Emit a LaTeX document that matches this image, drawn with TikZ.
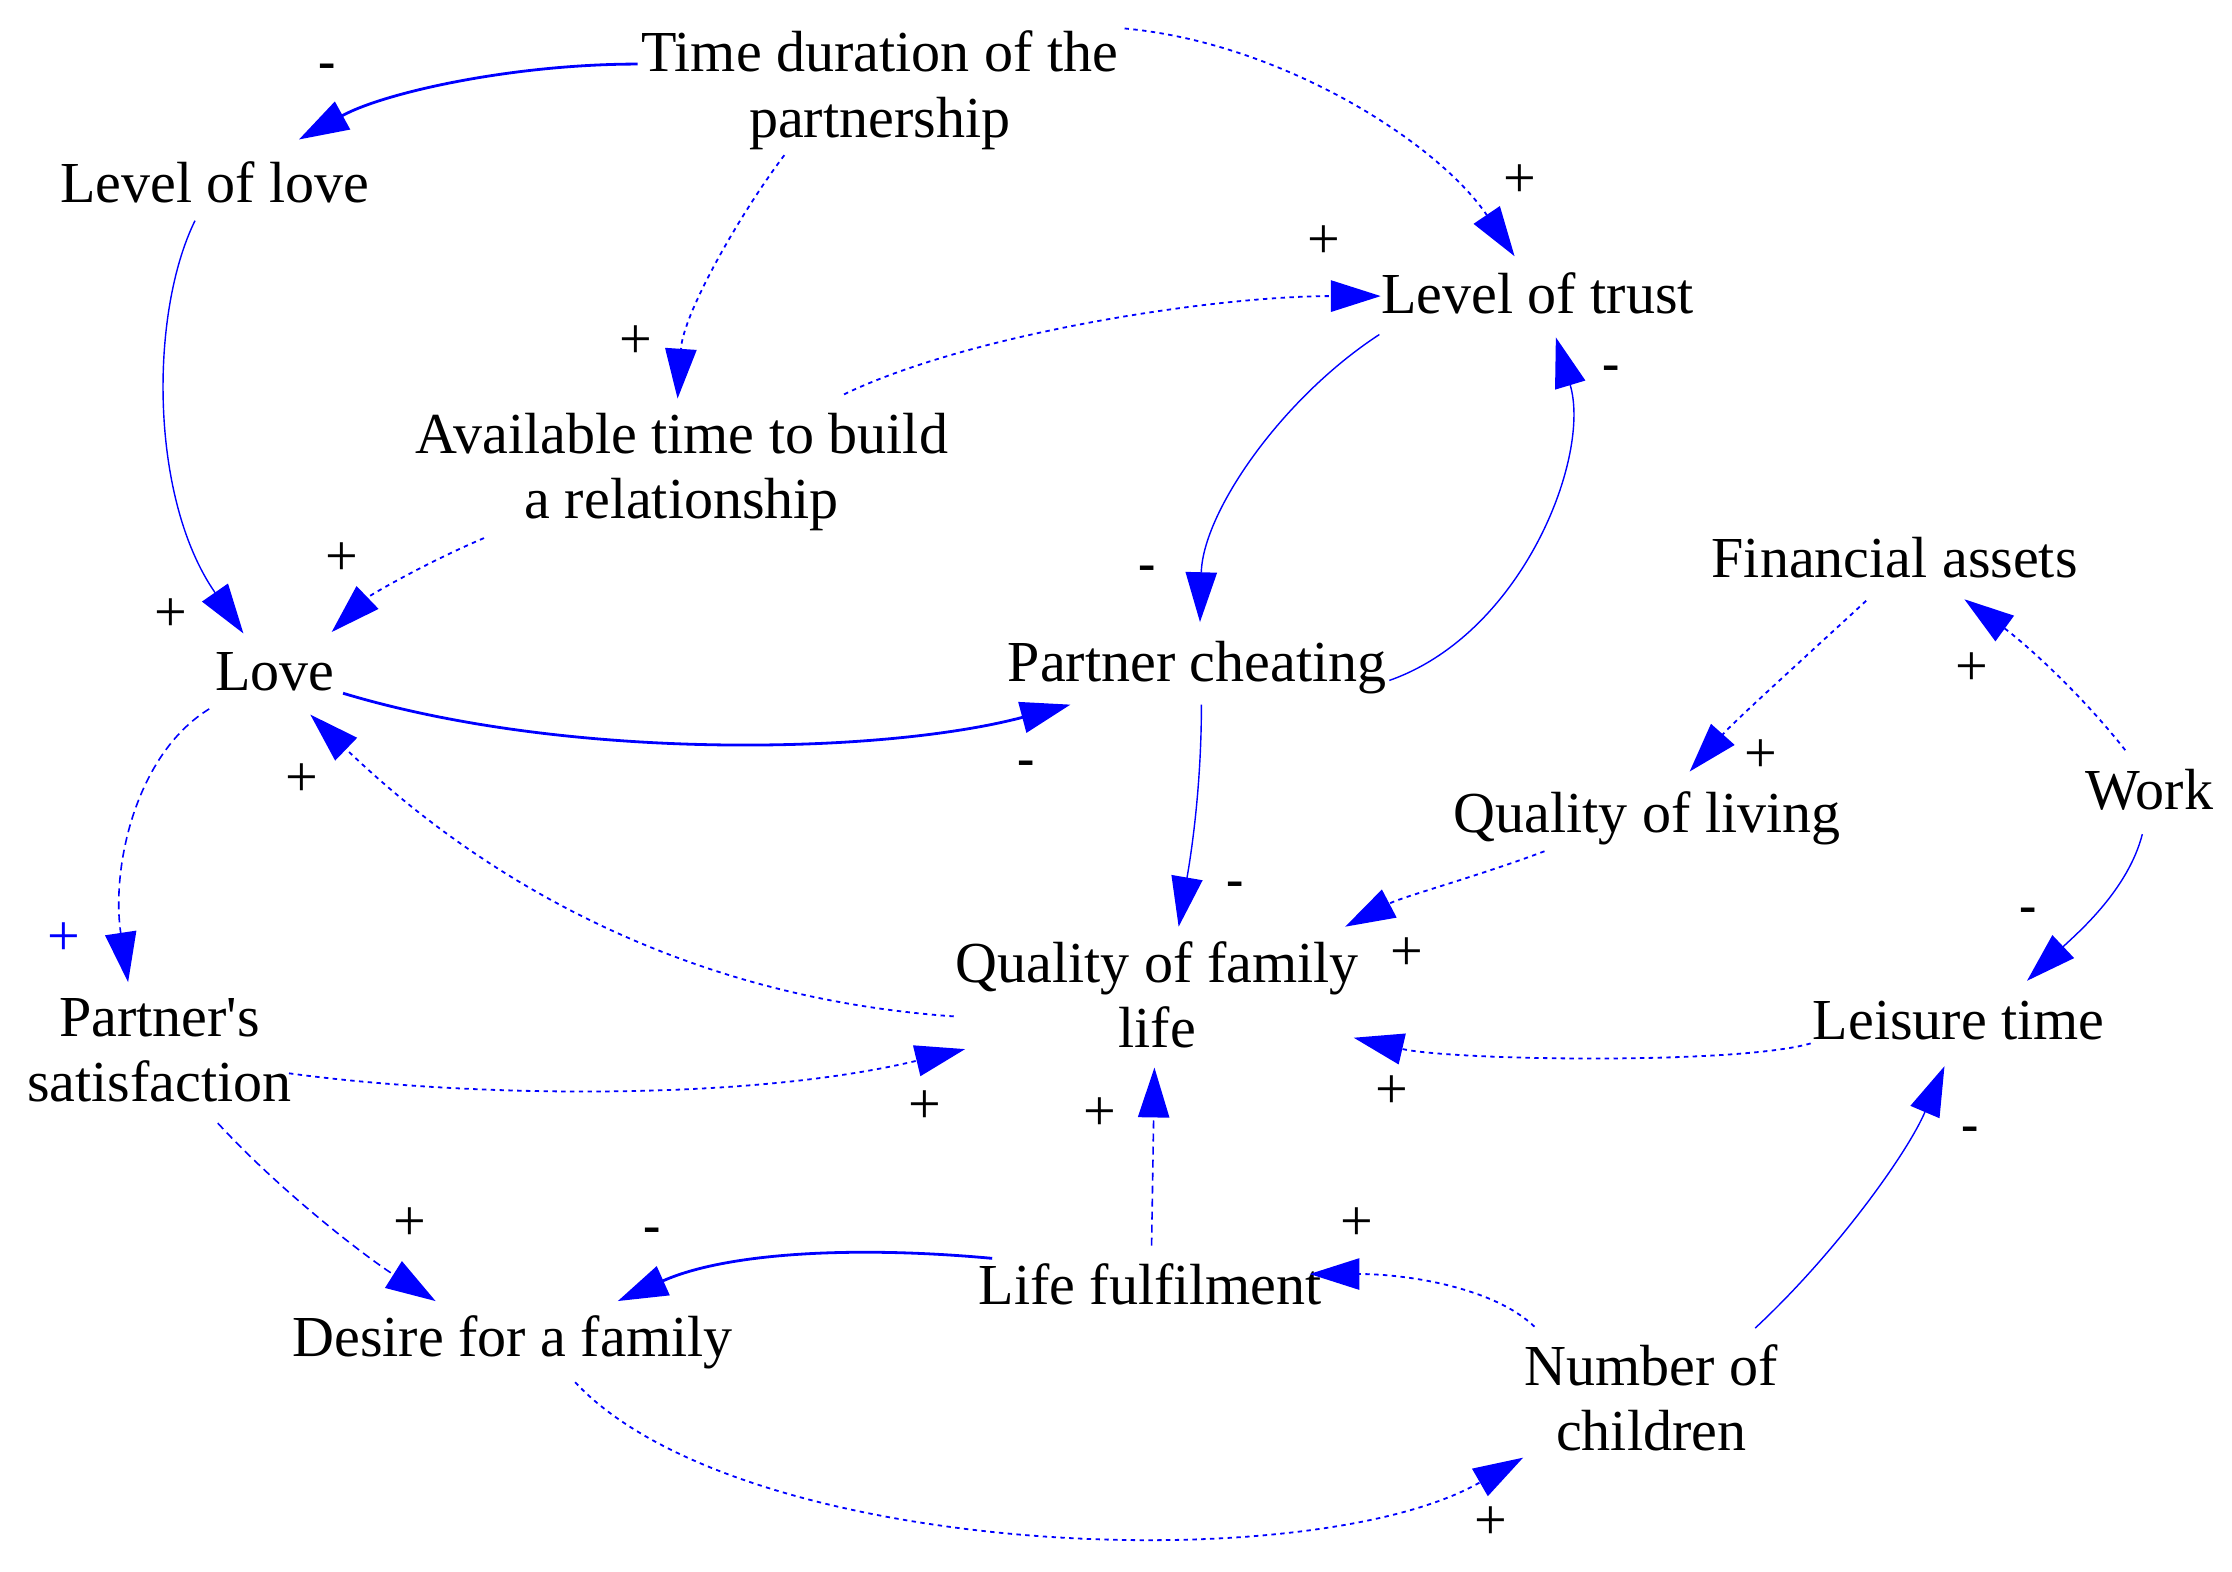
\documentclass[tikz,border=0pt]{standalone}
\usepackage{fontspec}
\setmainfont{Liberation Serif}
\usetikzlibrary{arrows.meta}
\begin{document}
\begin{tikzpicture}[x=0.25mm,y=-0.25mm,
  var/.style={font=\fontsize{29}{32.7}\selectfont, inner sep=0pt, align=center, text=black},
  plus/.style={font=\fontsize{29}{30}\selectfont, inner sep=0pt, text=black},
  minus/.style={font=\fontsize{26}{28}\selectfont\bfseries, inner sep=0pt, text=black},
  link/.style={draw=blue, line width=0.7pt, -{Triangle[length=8.75mm,width=5.5mm]}},
  dotlink/.style={link, line width=0.9pt, dash pattern=on 2.2pt off 2.2pt},
  dashlink/.style={link, line width=0.8pt, dash pattern=on 4pt off 2.5pt},
  thicklink/.style={link, line width=1.4pt}]
\useasboundingbox (0,0) rectangle (1568,1104);
% variables
\node[var] (tdp) at (618,63.5) {Time duration of the\\partnership};
\node[var] (lol) at (151,128) {Level of love};
\node[var] (lot) at (1080,206) {Level of trust};
\node[var] (atb) at (479,331.5) {Available time to build\\a relationship};
\node[var] (love) at (193,472) {Love};
\node[var] (pc) at (841,469) {Partner cheating};
\node[var] (fa) at (1331,392) {Financial assets};
\node[var] (ql) at (1157,575) {Quality of living};
\node[var] (work) at (1510,555) {Work};
\node[var] (qfl) at (813,699) {Quality of family\\life};
\node[var] (ps) at (112,738) {Partner\textquotesingle s\\satisfaction};
\node[var] (lt) at (1376,717) {Leisure time};
\node[var] (lf) at (808,902) {Life fulfilment};
\node[var] (dff) at (360,943) {Desire for a family};
\node[var] (noc) at (1160,982) {Number of\\children};
% links
\draw[thicklink] ([shift={(-170,-18.5)}]tdp.center) .. controls (360,45) and (270,65) .. ([shift={(59,-30)}]lol.center);
\draw[dotlink] ([shift={(-67,45.5)}]tdp.center) .. controls (520,150) and (480,220) .. ([shift={(-3,-51.5)}]atb.center);
\draw[dotlink] ([shift={(172,-43.5)}]tdp.center) .. controls (900,30) and (1010,100) .. ([shift={(-16,-26)}]lot.center);
\draw[dotlink] ([shift={(114,-54.5)}]atb.center) .. controls (680,235) and (850,208) .. ([shift={(-110,2)}]lot.center);
\draw[link] ([shift={(-111,29)}]lot.center) .. controls (900,280) and (845,360) .. ([shift={(2,-32)}]pc.center);
\draw[link] ([shift={(135,9)}]pc.center) .. controls (1070,445) and (1118,320) .. ([shift={(13,31)}]lot.center);
\draw[link] ([shift={(-14,27)}]lol.center) .. controls (105,220) and (105,350) .. ([shift={(-22,-27)}]love.center);
\draw[dotlink] ([shift={(-139,46.5)}]atb.center) .. controls (300,395) and (260,418) .. ([shift={(40,-28)}]love.center);
\draw[thicklink] ([shift={(48,15)}]love.center) .. controls (400,535) and (620,530) .. ([shift={(-89,26)}]pc.center);
\draw[link] ([shift={(3,26)}]pc.center) .. controls (844,560) and (835,610) .. ([shift={(15,-48)}]qfl.center);
\draw[dotlink] ([shift={(-143,15)}]qfl.center) .. controls (470,700) and (330,610) .. ([shift={(25,30)}]love.center);
\draw[dashlink] ([shift={(-46,26)}]love.center) .. controls (95,530) and (78,610) .. ([shift={(-22,-48)}]ps.center);
\draw[dotlink] ([shift={(91,16)}]ps.center) .. controls (320,770) and (520,775) .. ([shift={(-135,38)}]qfl.center);
\draw[dotlink] ([shift={(-72,23)}]ql.center) .. controls (1040,615) and (985,630) .. ([shift={(132,-48)}]qfl.center);
\draw[dotlink] ([shift={(-20,30)}]fa.center) .. controls (1270,460) and (1220,505) .. ([shift={(30,-33)}]ql.center);
\draw[dotlink] ([shift={(-17,-28)}]work.center) .. controls (1460,485) and (1420,450) .. ([shift={(49,29)}]fa.center);
\draw[link] ([shift={(-5,31)}]work.center) .. controls (1495,625) and (1460,655) .. ([shift={(48,-28)}]lt.center);
\draw[dotlink] ([shift={(-104,16)}]lt.center) .. controls (1220,748) and (1020,745) .. ([shift={(138,30)}]qfl.center);
\draw[link] ([shift={(73,-49)}]noc.center) .. controls (1290,880) and (1340,810) .. ([shift={(-10,32)}]lt.center);
\draw[dotlink] ([shift={(-82,-50)}]noc.center) .. controls (1050,905) and (990,895) .. ([shift={(112,-7)}]lf.center);
\draw[dashlink] ([shift={(1,-27)}]lf.center) -- ([shift={(-2,51)}]qfl.center);
\draw[thicklink] ([shift={(-111,-18)}]lf.center) .. controls (600,875) and (510,880) .. ([shift={(74,-29)}]dff.center);
\draw[dashlink] ([shift={(41,51)}]ps.center) .. controls (200,840) and (260,885) .. ([shift={(-54,-29)}]dff.center);
\draw[dotlink] ([shift={(44,28)}]dff.center) .. controls (520,1095) and (920,1110) .. ([shift={(-90,42)}]noc.center);
% polarities
\node[minus] (s1) at (230,50) {-};
\node[plus] (s2) at (447,240) {+};
\node[plus] (s3) at (1068,127) {+};
\node[plus] (s4) at (930,170) {+};
\node[minus] (s5) at (806,403) {-};
\node[minus] (s6) at (1132,262) {-};
\node[plus] (s7) at (120,432) {+};
\node[plus] (s8) at (240,393) {+};
\node[minus] (s9) at (721,540) {-};
\node[minus] (s10) at (868,625) {-};
\node[plus] (s11) at (212,548) {+};
\node[plus,text=blue] (s12) at (45,660) {+};
\node[plus] (s13) at (650,778) {+};
\node[plus] (s14) at (988,670) {+};
\node[plus] (s15) at (1237,531) {+};
\node[plus] (s16) at (1385,470) {+};
\node[minus] (s17) at (1425,643) {-};
\node[plus] (s18) at (978,767) {+};
\node[minus] (s19) at (1384,797) {-};
\node[plus] (s20) at (953,860) {+};
\node[plus] (s21) at (773,783) {+};
\node[minus] (s22) at (458,868) {-};
\node[plus] (s23) at (288,860) {+};
\node[plus] (s24) at (1047,1070) {+};
\end{tikzpicture}
\end{document}
